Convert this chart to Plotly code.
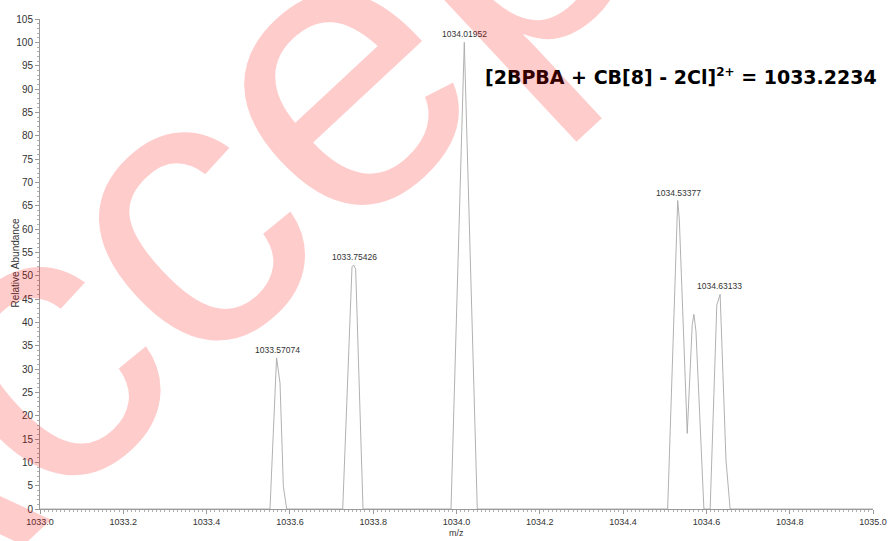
import plotly.graph_objects as go

# Profile spectrum of the isotope cluster (m/z vs relative abundance)
mz = [1033.0000, 1033.5522, 1033.5680, 1033.5763, 1033.5843, 1033.5923,
      1033.7268, 1033.7491, 1033.7531, 1033.7579, 1033.7755,
      1033.9868, 1034.0187, 1034.0499,
      1034.5070, 1034.5285, 1034.5311, 1034.5350, 1034.5540, 1034.5660,
      1034.5700, 1034.5750, 1034.5940,
      1034.6090, 1034.6250, 1034.6330, 1034.6470, 1034.6570, 1035.0000]
abundance = [0.0, 0.0, 32.4, 27.0, 4.8, 0.0,
             0.0, 51.9, 52.3, 51.4, 0.0,
             0.0, 100.0, 0.0,
             0.0, 63.5, 66.1, 62.0, 16.2, 39.5,
             41.7, 38.0, 0.0,
             0.0, 43.7, 46.0, 10.5, 0.0, 0.0]

# Labelled peak centroids
peak_mz = [1033.57074, 1033.75426, 1034.01952, 1034.53377, 1034.63133]
peak_top = [32.4, 52.3, 100.0, 66.1, 46.0]

formula = ("[2BPBA + CB[8] - 2Cl]"
           "<sup><span style='font-size:12px'>2+</span></sup> = 1033.2234")

fig = go.Figure()
fig.add_trace(go.Scatter(x=mz, y=abundance, mode="lines",
                         line=dict(color="#a8a8a8", width=0.9),
                         hoverinfo="skip", showlegend=False))

for m, h in zip(peak_mz, peak_top):
    fig.add_annotation(x=m, y=h, xref="x", yref="y", text=f"{m:.5f}",
                       showarrow=False, yanchor="bottom", yshift=1,
                       font=dict(family="Arial", size=8.5, color="#333333"))

fig.add_annotation(x=(483 - 40) / 833, y=(509 - 77) / 490,
                   xref="paper", yref="paper",
                   text=f"<b>{formula}</b>", showarrow=False,
                   xanchor="left", yanchor="middle",
                   font=dict(family="DejaVu Sans", size=19, color="#000000"))

# Axis titles
fig.add_annotation(x=(14.5 - 40) / 833, y=(509 - 263) / 490,
                   xref="paper", yref="paper",
                   text="Relative Abundance", textangle=-90, showarrow=False,
                   xanchor="center", yanchor="middle",
                   font=dict(family="Arial", size=10, color="#333333"))
fig.add_annotation(x=0.5, y=(509 - 533) / 490, xref="paper", yref="paper",
                   text="m/z", showarrow=False,
                   xanchor="center", yanchor="middle",
                   font=dict(family="Arial", size=9, color="#333333"))

# Watermark overlay
fig.add_annotation(x=0.394, y=0.961, xref="paper", yref="paper",
                   text="Accepted", textangle=-43, showarrow=False,
                   xanchor="center", yanchor="middle",
                   font=dict(family="Arial", size=395,
                             color="rgba(255,0,0,0.2)"))

fig.update_xaxes(range=[1033.0, 1035.0], dtick=0.2, tickformat=".1f",
                 automargin=False,
                 showgrid=False, zeroline=False, showline=True,
                 linecolor="#9a9a9a", linewidth=1,
                 ticks="outside", ticklen=4, tickcolor="#9a9a9a",
                 minor=dict(dtick=0.01, ticks="outside", ticklen=2,
                            tickcolor="#b0b0b0"),
                 tickfont=dict(family="Arial", size=9, color="#333333"))
fig.update_yaxes(range=[0, 105], dtick=5,
                 automargin=False,
                 showgrid=False, zeroline=False, showline=True,
                 linecolor="#9a9a9a", linewidth=1,
                 ticks="outside", ticklen=4, tickcolor="#9a9a9a",
                 minor=dict(dtick=1, ticks="outside", ticklen=2,
                            tickcolor="#b0b0b0"),
                 tickfont=dict(family="Arial", size=10, color="#333333"))

fig.update_layout(width=888, height=541,
                  margin=dict(l=40, r=15, t=19, b=32),
                  paper_bgcolor="white", plot_bgcolor="white")

fig.write_html("out.html")
